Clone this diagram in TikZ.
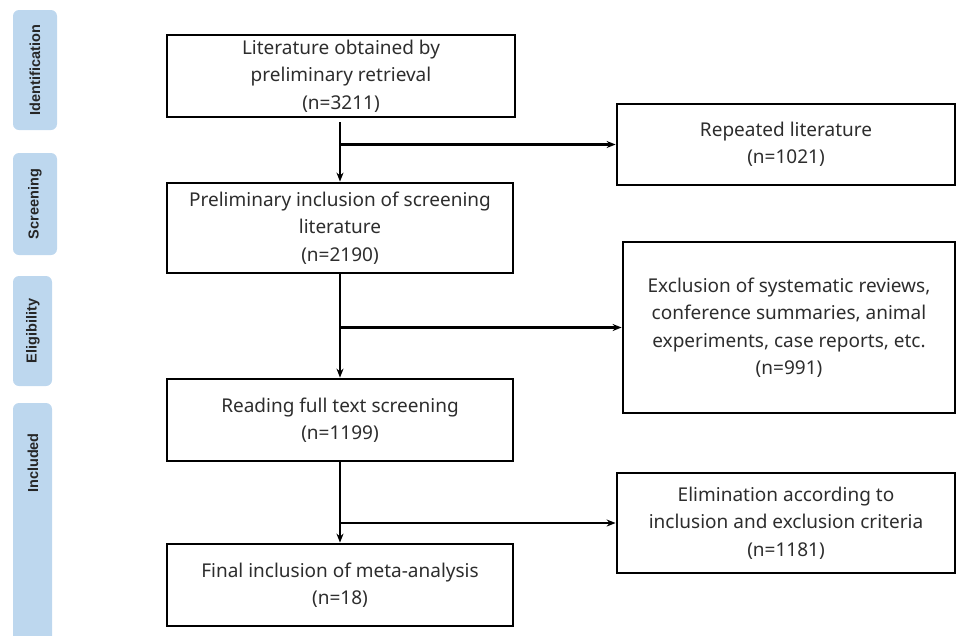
\documentclass[tikz,border=0pt]{standalone}
\usepackage{fontspec}
\setmainfont{Noto Sans}
\newfontfamily\tabfont{Liberation Sans}
\usetikzlibrary{arrows.meta}
\definecolor{tabblue}{RGB}{189,215,238}
\definecolor{txtgray}{RGB}{45,45,45}

\begin{document}
\begin{tikzpicture}[x=1pt,y=-1pt,
    box/.style={draw=black,line width=2.8pt,align=center,inner sep=0pt,text=txtgray,font=\fontsize{19}{27.5}\selectfont},
    tablabel/.style={rotate=90,text=black!85,font=\tabfont\bfseries\fontsize{14.5}{16}\selectfont},
    arr/.style={line width=2.2pt,-{Stealth[length=9pt,width=7pt]}}]
    \useasboundingbox (0,0) rectangle (957,635);
    \clip (0,0) rectangle (957,635);
    % stage tabs on the left
    \fill [tabblue,rounded corners=6pt] (13,10) rectangle (57,130);
    \fill [tabblue,rounded corners=6pt] (13,153) rectangle (57,255);
    \fill [tabblue,rounded corners=6pt] (13,276) rectangle (52,386);
    \fill [tabblue,rounded corners=6pt] (13,403) rectangle (52,660);
    \node[tablabel] (ident) at (35,70) {Identification};
    \node[tablabel] (screen) at (35,204) {Screening};
    \node[tablabel] (elig) at (33,331) {Eligibility};
    \node[tablabel] (incl) at (33,463) {Included};
    % main column
    \node[box,minimum width=348pt,minimum height=82pt] (lit) at (341,76) {Literature obtained by\\preliminary retrieval\\(n=3211)};
    \node[box,minimum width=346pt,minimum height=90pt] (prelim) at (340,228) {Preliminary inclusion of screening\\literature\\(n=2190)};
    \node[box,minimum width=346pt,minimum height=82pt] (full) at (340,420) {Reading full text screening\\(n=1199)};
    \node[box,minimum width=346pt,minimum height=82pt] (final) at (340,585) {Final inclusion of meta-analysis\\(n=18)};
    % excluded records
    \node[box,minimum width=338pt,minimum height=81pt] (rep) at (786,144.5) {Repeated literature\\(n=1021)};
    \node[box,minimum width=332pt,minimum height=171pt] (excl) at (789,327.5) {Exclusion of systematic reviews,\\conference summaries, animal\\experiments, case reports, etc.\\(n=991)};
    \node[box,minimum width=338pt,minimum height=100pt] (elim) at (786,523) {Elimination according to\\inclusion and exclusion criteria\\(n=1181)};
    % connectors
    \draw[arr,shorten <=4pt] (lit.south -| prelim.north) -- (prelim.north);
    \draw[arr] (prelim.south) -- (full.north);
    \draw[arr] (full.south) -- (final.north);
    \draw[arr] (prelim.north |- rep.west) -- (rep.west);
    \draw[arr] (prelim.south |- excl.west) -- (excl.west);
    \draw[arr] (full.south |- elim.west) -- (elim.west);
\end{tikzpicture}
\end{document}
